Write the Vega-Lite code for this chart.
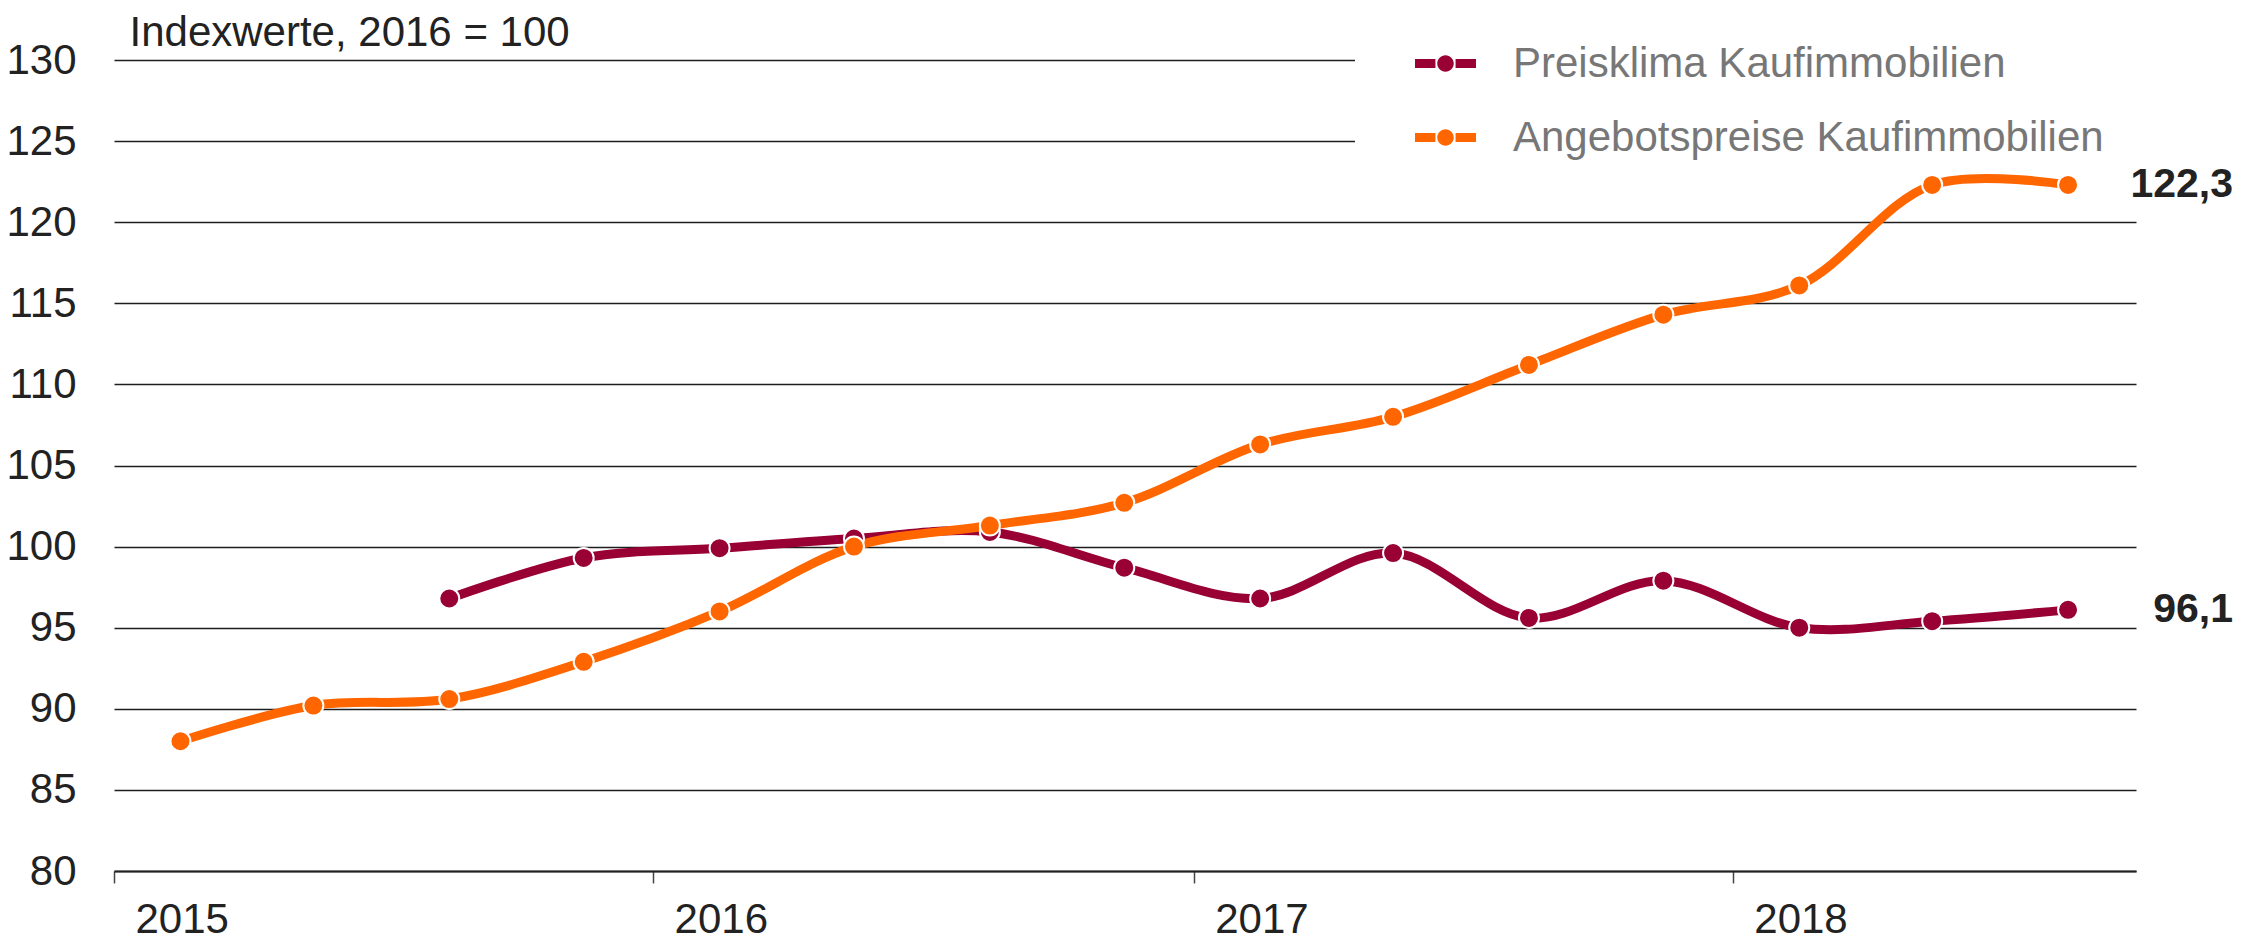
{
  "$schema": "https://vega.github.io/schema/vega-lite/v6.json",
  "width": 2022,
  "height": 811,
  "autosize": {"type": "none"},
  "padding": {"left": 114, "top": 60, "right": 105, "bottom": 69},
  "background": "white",
  "config": {
    "view": {"stroke": null},
    "font": "Liberation Sans",
    "locale": {"number": {"decimal": ",", "thousands": ".", "grouping": [3], "currency": ["", " €"]}}
  },
  "data": {
    "values": [
      {"date": "2015-08-16", "series": "Preisklima Kaufimmobilien", "value": 96.8},
      {"date": "2015-11-15", "series": "Preisklima Kaufimmobilien", "value": 99.3},
      {"date": "2016-02-15", "series": "Preisklima Kaufimmobilien", "value": 99.9},
      {"date": "2016-05-16", "series": "Preisklima Kaufimmobilien", "value": 100.5},
      {"date": "2016-08-16", "series": "Preisklima Kaufimmobilien", "value": 100.9},
      {"date": "2016-11-15", "series": "Preisklima Kaufimmobilien", "value": 98.7},
      {"date": "2017-02-15", "series": "Preisklima Kaufimmobilien", "value": 96.8},
      {"date": "2017-05-16", "series": "Preisklima Kaufimmobilien", "value": 99.6},
      {"date": "2017-08-16", "series": "Preisklima Kaufimmobilien", "value": 95.6},
      {"date": "2017-11-15", "series": "Preisklima Kaufimmobilien", "value": 97.9},
      {"date": "2018-02-15", "series": "Preisklima Kaufimmobilien", "value": 95.0},
      {"date": "2018-05-16", "series": "Preisklima Kaufimmobilien", "value": 95.4},
      {"date": "2018-08-16", "series": "Preisklima Kaufimmobilien", "value": 96.1},
      {"date": "2015-02-15", "series": "Angebotspreise Kaufimmobilien", "value": 88.0},
      {"date": "2015-05-16", "series": "Angebotspreise Kaufimmobilien", "value": 90.2},
      {"date": "2015-08-16", "series": "Angebotspreise Kaufimmobilien", "value": 90.6},
      {"date": "2015-11-15", "series": "Angebotspreise Kaufimmobilien", "value": 92.9},
      {"date": "2016-02-15", "series": "Angebotspreise Kaufimmobilien", "value": 96.0},
      {"date": "2016-05-16", "series": "Angebotspreise Kaufimmobilien", "value": 100.0},
      {"date": "2016-08-16", "series": "Angebotspreise Kaufimmobilien", "value": 101.3},
      {"date": "2016-11-15", "series": "Angebotspreise Kaufimmobilien", "value": 102.7},
      {"date": "2017-02-15", "series": "Angebotspreise Kaufimmobilien", "value": 106.3},
      {"date": "2017-05-16", "series": "Angebotspreise Kaufimmobilien", "value": 108.0},
      {"date": "2017-08-16", "series": "Angebotspreise Kaufimmobilien", "value": 111.2},
      {"date": "2017-11-15", "series": "Angebotspreise Kaufimmobilien", "value": 114.3},
      {"date": "2018-02-15", "series": "Angebotspreise Kaufimmobilien", "value": 116.1},
      {"date": "2018-05-16", "series": "Angebotspreise Kaufimmobilien", "value": 122.3},
      {"date": "2018-08-16", "series": "Angebotspreise Kaufimmobilien", "value": 122.3}
    ]
  },
  "encoding": {
    "x": {
      "field": "date",
      "type": "temporal",
      "scale": {"domain": [{"year": 2015, "month": 1, "date": 1}, {"year": 2018, "month": 10, "date": 1}]},
      "axis": {
        "values": [
          {"year": 2015, "month": 1, "date": 1},
          {"year": 2016, "month": 1, "date": 1},
          {"year": 2017, "month": 1, "date": 1},
          {"year": 2018, "month": 1, "date": 1}
        ],
        "format": "%Y",
        "grid": false,
        "domainColor": "#222222",
        "domainWidth": 2,
        "tickColor": "#444444",
        "tickWidth": 1.5,
        "tickSize": 12,
        "labelFontSize": 42,
        "labelColor": "#222222",
        "labelAlign": "left",
        "labelOffset": 21,
        "labelPadding": 16,
        "labelBaseline": "top",
        "title": null
      }
    },
    "y": {
      "field": "value",
      "type": "quantitative",
      "scale": {"domain": [80, 130], "nice": false, "zero": false},
      "axis": {
        "values": [80, 85, 90, 95, 100, 105, 110, 115, 120, 125, 130],
        "grid": true,
        "gridColor": "#1e1e1e",
        "gridWidth": 1.7,
        "domain": false,
        "ticks": false,
        "labelFontSize": 42,
        "labelColor": "#222222",
        "labelPadding": 38,
        "title": "Indexwerte, 2016 = 100",
        "titleAngle": 0,
        "titleX": 15,
        "titleY": -15,
        "titleAlign": "left",
        "titleBaseline": "alphabetic",
        "titleFontSize": 42,
        "titleFontWeight": "normal",
        "titleColor": "#222222"
      }
    },
    "color": {
      "field": "series",
      "type": "nominal",
      "scale": {"domain": ["Preisklima Kaufimmobilien", "Angebotspreise Kaufimmobilien"], "range": ["#990033", "#ff6600"]},
      "legend": {
        "orient": "none",
        "legendX": 1241,
        "legendY": -35,
        "title": " ",
        "titleOrient": "right",
        "titlePadding": 30,
        "titleFontSize": 2,
        "fillColor": "white",
        "padding": 8,
        "symbolType": "M-1,-0.15L-0.33,-0.15L-0.33,0.15L-1,0.15Z M0.33,-0.15L1,-0.15L1,0.15L0.33,0.15Z M0.27,0C0.27,0.149 0.149,0.27 0,0.27C-0.149,0.27 -0.27,0.149 -0.27,0C-0.27,-0.149 -0.149,-0.27 0,-0.27C0.149,-0.27 0.27,-0.149 0.27,0Z",
        "symbolSize": 3721,
        "symbolStrokeWidth": 0,
        "symbolOffset": 52,
        "labelFontSize": 42,
        "labelColor": "#777777",
        "labelOffset": 37,
        "labelLimit": 1000,
        "rowPadding": 22
      }
    }
  },
  "layer": [
    {
      "mark": {"type": "line", "interpolate": "catmull-rom", "strokeWidth": 9, "strokeCap": "round"}
    },
    {
      "mark": {"type": "point", "filled": true, "size": 400, "stroke": "white", "strokeWidth": 2, "opacity": 1}
    },
    {
      "transform": [{"filter": {"field": "date", "gte": {"year": 2018, "month": 8, "date": 1}}}],
      "mark": {"type": "text", "align": "right", "baseline": "middle", "dx": 165, "fontSize": 41, "fontWeight": "bold"},
      "encoding": {
        "color": {"value": "#222222"},
        "text": {"field": "value", "type": "quantitative", "format": ".1f"}
      }
    }
  ]
}
